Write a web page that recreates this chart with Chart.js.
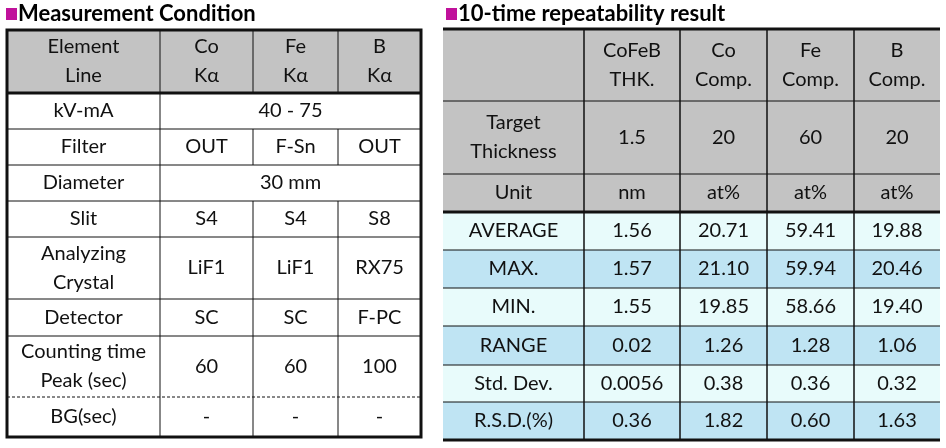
<!DOCTYPE html>
<html><head><meta charset="utf-8">
<script src="https://cdn.jsdelivr.net/npm/chart.js@4"></script>
<style>html,body{margin:0;padding:0;background:#fff}</style>
</head><body>
<canvas id="tbl" width="946" height="448"></canvas>
<script>
// table contents
var condTitle = 'Measurement Condition';
var condHeader = ['Element\nLine', 'Co\nK\u03b1', 'Fe\nK\u03b1', 'B\nK\u03b1'];
var condRows = [
  ['kV-mA', '40 - 75'],
  ['Filter', 'OUT', 'F-Sn', 'OUT'],
  ['Diameter', '30 mm'],
  ['Slit', 'S4', 'S4', 'S8'],
  ['Analyzing\nCrystal', 'LiF1', 'LiF1', 'RX75'],
  ['Detector', 'SC', 'SC', 'F-PC'],
  ['Counting time\nPeak (sec)', '60', '60', '100'],
  ['BG(sec)', '-', '-', '-']
];
var repTitle = '10-time repeatability result';
var repHeader = ['', 'CoFeB\nTHK.', 'Co\nComp.', 'Fe\nComp.', 'B\nComp.'];
var repInfo = [
  ['Target\nThickness', '1.5', '20', '60', '20'],
  ['Unit', 'nm', 'at%', 'at%', 'at%']
];
var statLabels = ['AVERAGE', 'MAX.', 'MIN.', 'RANGE', 'Std. Dev.', 'R.S.D.(%)'];
var statThk  = ['1.56', '1.57', '1.55', '0.02', '0.0056', '0.36'];
var statCo   = ['20.71', '21.10', '19.85', '1.26', '0.38', '1.82'];
var statFe   = ['59.41', '59.94', '58.66', '1.28', '0.36', '0.60'];
var statB    = ['19.88', '20.46', '19.40', '1.06', '0.32', '1.63'];

// layout (canvas units, mapped through the scales)
var condCols = [7, 160, 253, 338, 421];
var condRowY = [30, 93, 129, 165, 201, 237, 299, 336, 397, 437];
var repCols = [443, 584, 680, 767, 854, 940];
var repRowY = [29, 101, 174, 212, 250, 288, 326, 365, 402, 440];
var FONT = 'Lato, "Open Sans", sans-serif';
var GREY = '#c3c3c3', LIGHT = '#e8fbfb', BLUE = '#bfe4f3';

var tablePlugin = {
  id: 'tablePlugin',
  afterDraw: function(chart) {
    var ctx = chart.ctx, xs = chart.scales.x, ys = chart.scales.y;
    var X = function(v) { return xs.getPixelForValue(v); };
    var Y = function(v) { return ys.getPixelForValue(v); };
    function fill(x0, y0, x1, y1, c) { ctx.fillStyle = c; ctx.fillRect(X(x0), Y(y0), X(x1) - X(x0), Y(y1) - Y(y0)); }
    function line(x0, y0, x1, y1, w, dash) {
      ctx.save(); ctx.strokeStyle = '#111'; ctx.lineWidth = w; ctx.setLineDash(dash || []);
      ctx.beginPath(); ctx.moveTo(X(x0), Y(y0)); ctx.lineTo(X(x1), Y(y1)); ctx.stroke(); ctx.restore();
    }
    function text(t, x0, y0, x1, y1) {
      var ls = String(t).split('\n');
      ctx.fillStyle = '#111'; ctx.font = '20px ' + FONT; ctx.textAlign = 'center'; ctx.textBaseline = 'middle';
      var cx = (X(x0) + X(x1)) / 2, cy = (Y(y0) + Y(y1)) / 2, lh = 29;
      ls.forEach(function(s, i) { ctx.fillText(s, cx, cy + (i - (ls.length - 1) / 2) * lh); });
    }
    function title(t, x, y) {
      ctx.fillStyle = '#c0119b'; ctx.fillRect(X(x), Y(y) - 6, 11, 12);
      ctx.fillStyle = '#000'; ctx.font = 'bold 22px ' + FONT; ctx.textAlign = 'left'; ctx.textBaseline = 'middle';
      ctx.fillText(t, X(x) + 12, Y(y));
    }
    // left table
    title(condTitle, 6, 14);
    fill(condCols[0], condRowY[0], condCols[4], condRowY[1], GREY);
    condHeader.forEach(function(h, i) { text(h, condCols[i], condRowY[0], condCols[i + 1], condRowY[1]); });
    condRows.forEach(function(r, ri) {
      var y0 = condRowY[ri + 1], y1 = condRowY[ri + 2];
      text(r[0], condCols[0], y0, condCols[1], y1);
      if (r.length === 2) text(r[1], condCols[1], y0, condCols[4], y1);
      else for (var c = 1; c < 4; c++) text(r[c], condCols[c], y0, condCols[c + 1], y1);
      if (ri > 0) line(condCols[0], y0, condCols[4], y0, 1, ri === condRows.length - 1 ? [3, 2] : null);
      line(condCols[1], y0, condCols[1], y1, 1);
      if (r.length > 2) { line(condCols[2], y0, condCols[2], y1, 1); line(condCols[3], y0, condCols[3], y1, 1); }
    });
    line(condCols[1], condRowY[0], condCols[1], condRowY[1], 1);
    line(condCols[2], condRowY[0], condCols[2], condRowY[1], 1);
    line(condCols[3], condRowY[0], condCols[3], condRowY[1], 1);
    line(condCols[0], condRowY[1], condCols[4], condRowY[1], 3);
    ctx.save(); ctx.strokeStyle = '#111'; ctx.lineWidth = 3;
    ctx.strokeRect(X(condCols[0]), Y(condRowY[0]), X(condCols[4]) - X(condCols[0]), Y(condRowY[9]) - Y(condRowY[0]));
    ctx.restore();

    // right table
    title(repTitle, 446, 14);
    fill(repCols[0], repRowY[0], repCols[5], repRowY[3], GREY);
    var headRows = [repHeader].concat(repInfo);
    headRows.forEach(function(r, ri) {
      for (var c = 0; c < 5; c++) text(r[c], repCols[c], repRowY[ri], repCols[c + 1], repRowY[ri + 1]);
    });
    var statCols = [statLabels, statThk, statCo, statFe, statB];
    statLabels.forEach(function(l, ri) {
      var y0 = repRowY[ri + 3], y1 = repRowY[ri + 4];
      fill(repCols[0], y0, repCols[5], y1, ri % 2 ? BLUE : LIGHT);
      for (var c = 0; c < 5; c++) text(statCols[c][ri], repCols[c], y0, repCols[c + 1], y1);
    });
    for (var r = 1; r < 9; r++) line(repCols[0], repRowY[r], repCols[5], repRowY[r], r === 3 ? 3 : 1);
    for (var c = 1; c < 5; c++) line(repCols[c], repRowY[0], repCols[c], repRowY[9], 1.5);
    line(repCols[0], repRowY[0], repCols[5], repRowY[0], 3);
    line(repCols[0], repRowY[9], repCols[5], repRowY[9], 3);
  }
};

new Chart(document.getElementById('tbl'), {
  type: 'scatter',
  data: { datasets: [{ data: [] }] },
  options: {
    animation: false,
    responsive: false,
    devicePixelRatio: 1,
    layout: { padding: 0 },
    plugins: { legend: { display: false }, tooltip: { enabled: false } },
    scales: {
      x: { type: 'linear', min: 0, max: 946, display: false },
      y: { type: 'linear', min: 0, max: 448, reverse: true, display: false }
    }
  },
  plugins: [tablePlugin]
});
</script>
</body></html>
